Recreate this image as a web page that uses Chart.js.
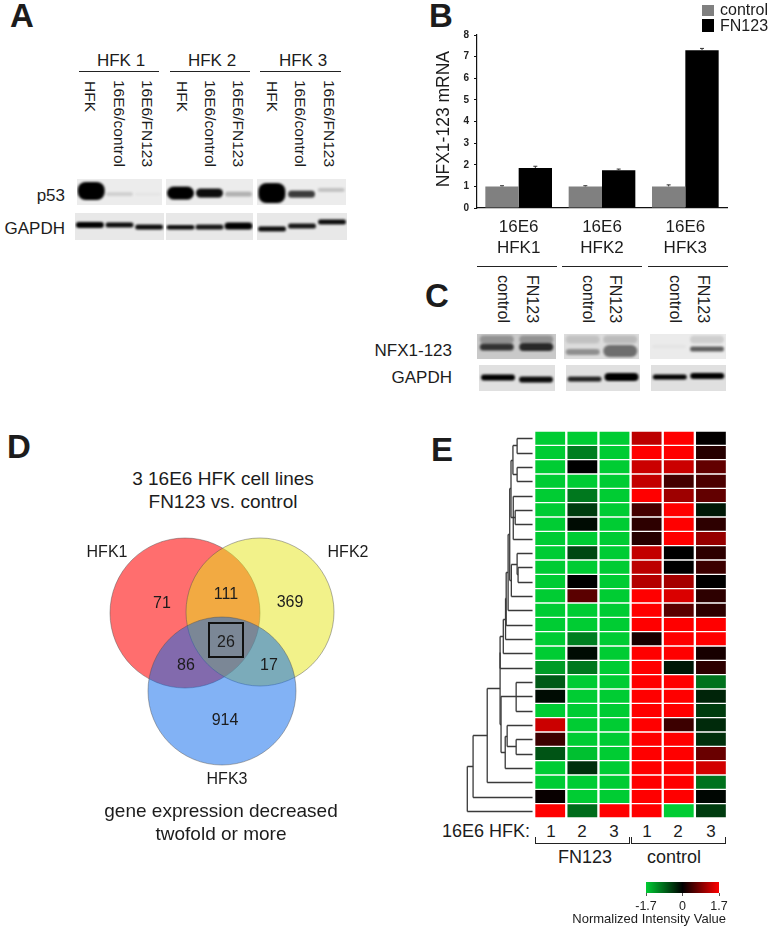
<!DOCTYPE html>
<html lang="en">
  <head>
    <meta charset="UTF-8" />
    <title>NFX1-123 figure</title>
    <script src="https://cdnjs.cloudflare.com/ajax/libs/Chart.js/4.4.1/chart.umd.min.js"></script>
    <style>
      html, body { margin: 0; background: #fff; }
      #page { position: relative; width: 776px; height: 927px; overflow: hidden; font-family: "Liberation Sans", Arial, sans-serif; color: #1c1c1c; }
      #page canvas { position: absolute; }
      .txt { position: absolute; white-space: nowrap; line-height: 1; }
      .rule { position: absolute; background: #222; }
    </style>
  </head>
  <body>
    <div id="page"></div>

    <script>
      // panel B
      const mrnaGroups = [["16E6", "HFK1"], ["16E6", "HFK2"], ["16E6", "HFK3"]];
      const mrnaControl = [1, 1, 1];
      const mrnaFN123 = [1.85, 1.75, 7.3];
      const mrnaControlErr = [0.03, 0.03, 0.07];
      const mrnaFN123Err = [0.08, 0.05, 0.08];

      // panel A blots, one row per HFK line
      const p53Intensity = [[1, 0.12, 0.03], [1, 0.95, 0.25], [1, 0.75, 0.18]];
      const p53Migration = [[0.46, 0.58, 0.58], [0.54, 0.54, 0.58], [0.54, 0.58, 0.42]];
      const p53Thickness = [[18, 4, 3], [13, 9, 5], [20, 7, 4]];
      const gapdhAIntensity = [[1, 0.95, 0.95], [0.95, 0.9, 1], [0.95, 0.9, 0.95]];
      const gapdhAMigration = [[0.44, 0.44, 0.52], [0.52, 0.52, 0.48], [0.59, 0.48, 0.33]];
      const gapdhAThickness = [[6, 5, 5], [4.5, 5, 7], [5, 5, 5]];

      // panel C blots
      const nfxIntensity = [[0.75, 0.8], [0.35, 0.5], [0.03, 0.6]];
      const nfxMigration = [[0.52, 0.52], [0.72, 0.68], [0.5, 0.6]];
      const nfxThickness = [[7, 8], [6, 12], [3, 5]];
      const nfxUpperIntensity = [[0.28, 0.28], [0.12, 0.15], [0, 0.12]];
      const gapdhCIntensity = [[1, 0.95], [0.85, 1], [1, 1]];
      const gapdhCMigration = [[0.48, 0.56], [0.54, 0.46], [0.46, 0.42]];
      const gapdhCThickness = [[6, 6], [5, 8], [5, 6]];

      // panel D circles in figure units
      const vennNames = ["HFK1", "HFK2", "HFK3"];
      const vennX = [85, 160, 122];
      const vennY = [162, 163, 84];
      const vennR = [75, 74, 74];

      // panel E
      const heatRows = ["1","2","3","4","5","6","7","8","9","10","11","12","13","14","15","16","17","18","19","20","21","22","23","24","25","26","27"];
      const heatFN1 = [-1.7,-1.7,-1.7,-1.7,-1.7,-1.7,-1.7,-1.7,-1.7,-1.7,-1.7,-1.7,-1.7,-1.7,-1.7,-1.7,-1.3,-0.75,-0.1,-1.7,1.35,0.4,-0.7,-1.7,-1.7,0.05,1.7];
      const heatFN2 = [-1.7,-1.05,0,-1.7,-1,-0.5,-0.1,-1.7,-0.6,-1.7,0,0.6,-1.7,-1.7,-1.05,-0.1,-1,-1.7,-1.7,-1.7,-1.7,-1.7,-1.6,-0.4,-1.7,-1.7,-0.9];
      const heatFN3 = [-1.7,-1.7,-1.7,-1.7,-1.7,-1.7,-1.7,-1.7,-1.7,-1.7,-1.7,-1.7,-1.7,-1.7,-1.7,-1.7,-1.7,-1.7,-1.7,-1.7,-1.7,-1.7,-1.7,-1.7,-1.7,-1.7,1.7];
      const heatCtl1 = [1.25,1.7,1.35,1.3,1.7,0.45,0.3,0.25,1.3,1.25,1.2,1.7,1.7,1.7,0.15,1.7,1.7,1.7,1.7,1.7,1.7,1.7,1.7,1.7,1.7,1.7,1.7];
      const heatCtl2 = [1.7,1.7,1.35,0.45,1.05,1.7,1.7,1.7,0,0,1.1,1.45,0.6,1.7,1.7,1.7,-0.2,1.7,1.7,1.7,0.4,1.7,1.7,1.7,1.7,1.7,-1.7];
      const heatCtl3 = [0.02,0.25,0.65,0.5,0.65,-0.2,0.3,1,0.3,0.4,0,0.3,0.3,1.7,1.7,0.15,0.3,-0.95,-0.3,-0.5,-0.35,-0.4,0.7,1.4,-0.95,-0.05,-0.5];
      const scaleRange = [-1.7, 1.7];
      const scaleTicks = [-1.7, 0, 1.7];

      // dendrogram: positive = row number, negative = earlier merge number
      const mergeKids = [[1,2],[3,4],[-1,-2],[6,7],[5,-4,8],[-3,-5],[10,11],[9,-7],[-8,12],[-6,-9],[-10,13],[-11,14],[-12,15],[-13,16],[-14,17],[18,19,20],[22,23],[21,-17],[-18,24],[-16,-19],[-15,-20],[-21,25],[-22,26],[-23,27]];
      const mergeDist = [0.53,0.53,0.66,0.59,0.65,0.72,0.5,0.53,0.71,0.76,0.81,0.87,0.89,0.96,1.06,0.56,0.56,0.84,0.9,1.03,1.06,1.46,1.9,2.08];

      const page = document.getElementById("page");
      const FONT = '"Liberation Sans", Arial, sans-serif';
      Chart.defaults.font.family = FONT;
      Chart.defaults.animation = false;
      Chart.defaults.responsive = false;
      Chart.defaults.plugins.legend.display = false;
      Chart.defaults.plugins.tooltip.enabled = false;

      function addCanvas(left, top, width, height, bg) {
        const c = document.createElement("canvas");
        c.width = width;
        c.height = height;
        c.style.left = left + "px";
        c.style.top = top + "px";
        if (bg) c.style.background = bg;
        page.appendChild(c);
        return c;
      }

      // centred on x,y unless align says otherwise
      function label(text, x, y, size, align, weight) {
        const d = document.createElement("div");
        d.className = "txt";
        d.textContent = text;
        d.style.fontSize = size + "px";
        d.style.top = y - size / 2 + "px";
        if (weight) d.style.fontWeight = weight;
        if (align === "right") {
          d.style.right = 776 - x + "px";
        } else {
          d.style.left = x + "px";
          if (align !== "left") d.style.transform = "translateX(-50%)";
        }
        page.appendChild(d);
      }

      function downLabel(text, x, top, size) {
        const d = document.createElement("div");
        d.className = "txt";
        d.textContent = text;
        d.style.writingMode = "vertical-rl";
        d.style.fontSize = size + "px";
        d.style.left = x - size / 2 + "px";
        d.style.top = top + "px";
        page.appendChild(d);
      }

      function rule(x1, y1, x2, y2) {
        const d = document.createElement("div");
        d.className = "rule";
        d.style.left = x1 + "px";
        d.style.top = y1 + "px";
        d.style.width = Math.max(x2 - x1, 1) + "px";
        d.style.height = Math.max(y2 - y1, 1) + "px";
        page.appendChild(d);
      }

      // soft dark smear used as point image for a blot band
      function bandImage(w, h, alpha) {
        const c = document.createElement("canvas");
        c.width = w + 10;
        c.height = h + 10;
        const g = c.getContext("2d");
        g.filter = "blur(1.2px)";
        g.fillStyle = "rgba(0,0,0," + alpha + ")";
        g.beginPath();
        g.roundRect(5, 5, w, h, Math.min(h / 2, 8));
        g.fill();
        return c;
      }

      function blot(left, top, width, height, bg, bandW, intensity, migration, thickness, upper) {
        const c = addCanvas(left, top, width, height, bg);
        const lanes = intensity.map((v, i) => ({ x: i + 1, y: migration[i] }));
        const datasets = [
          {
            data: lanes,
            pointStyle: intensity.map((v, i) => bandImage(bandW, thickness[i], v)),
          },
        ];
        if (upper) {
          datasets.push({
            data: intensity.map((v, i) => ({ x: i + 1, y: 0.22 })),
            pointStyle: upper.map((v) => bandImage(bandW, 8, v)),
          });
        }
        new Chart(c, {
          type: "scatter",
          data: { datasets },
          options: {
            layout: { autoPadding: false },
            scales: {
              x: { type: "linear", display: false, min: 0.5, max: intensity.length + 0.5 },
              y: { type: "linear", display: false, min: 0, max: 1, reverse: true },
            },
          },
        });
      }

      // ---- panel letters
      label("A", 10, 15, 33, "left", "bold");
      label("B", 429, 15, 33, "left", "bold");
      label("C", 425, 295, 33, "left", "bold");
      label("D", 7, 446, 33, "left", "bold");
      label("E", 431, 449, 33, "left", "bold");

      // ---- panel A
      [["HFK 1", 121, 79, 159], ["HFK 2", 212, 170, 250], ["HFK 3", 303, 260, 341]].forEach((h) => {
        label(h[0], h[1], 60, 17);
        rule(h[2], 71, h[3], 72);
      });
      [90, 182, 272].forEach((x) => downLabel("HFK", x, 81, 15.5));
      [119, 210, 300].forEach((x) => downLabel("16E6/control", x, 80, 15.5));
      [147, 238, 329].forEach((x) => downLabel("16E6/FN123", x, 80, 15.5));
      label("p53", 65, 195, 17, "right");
      label("GAPDH", 65, 228, 17, "right");

      const p53Strips = [[77, 85], [166, 87], [257, 89]];
      p53Strips.forEach((s, i) => blot(s[0], 179, s[1], 26, "#ececec", 27, p53Intensity[i], p53Migration[i], p53Thickness[i]));
      const gapdhAStrips = [[75, 89], [166, 87], [257, 90]];
      gapdhAStrips.forEach((s, i) => blot(s[0], 213, s[1], 27, "#e8e8e8", 28, gapdhAIntensity[i], gapdhAMigration[i], gapdhAThickness[i]));

      // ---- panel B
      const errorBars = {
        id: "errorBars",
        afterDatasetsDraw(chart) {
          const g = chart.ctx;
          const y = chart.scales.y;
          const errs = [mrnaControlErr, mrnaFN123Err];
          g.save();
          g.lineWidth = 1;
          g.strokeStyle = "#333";
          errs.forEach((err, ds) => {
            chart.getDatasetMeta(ds).data.forEach((bar, i) => {
              const v = chart.data.datasets[ds].data[i];
              const top = y.getPixelForValue(v + err[i]);
              g.beginPath();
              g.moveTo(bar.x, bar.y);
              g.lineTo(bar.x, top);
              g.moveTo(bar.x - 2, top);
              g.lineTo(bar.x + 2, top);
              g.stroke();
            });
          });
          g.restore();
        },
      };
      new Chart(addCanvas(430, 0, 310, 262), {
        type: "bar",
        data: {
          labels: mrnaGroups,
          datasets: [
            { label: "control", data: mrnaControl, backgroundColor: "#808080" },
            { label: "FN123", data: mrnaFN123, backgroundColor: "#000" },
          ],
        },
        options: {
          layout: { autoPadding: false, padding: { top: 35, right: 13, left: 0, bottom: 0 } },
          datasets: { bar: { categoryPercentage: 0.8, barPercentage: 1 } },
          scales: {
            x: {
              afterFit: (s) => { s.height = 54; },
              grid: { display: false, drawTicks: false },
              border: { color: "#111", width: 1.2 },
              ticks: { color: "#1c1c1c", font: { size: 17, lineHeight: 1.23 }, padding: 9, maxRotation: 0 },
            },
            y: {
              min: 0,
              max: 8,
              afterFit: (s) => { s.width = 47; },
              grid: { drawOnChartArea: false, tickLength: 3, color: "#111" },
              border: { color: "#111", width: 1.2 },
              ticks: { stepSize: 1, color: "#222", font: { size: 10, weight: "bold" }, padding: 5 },
              title: { display: true, text: " NFX1-123 mRNA", color: "#1c1c1c", font: { size: 17.5 }, padding: { top: 4, bottom: 0 } },
            },
          },
        },
        plugins: [errorBars],
      });
      rule(702, 5, 714, 16);
      page.lastChild.style.background = "#808080";
      rule(702, 19, 714, 32);
      page.lastChild.style.background = "#000";
      label("control", 720, 10, 16, "left");
      label("FN123", 720, 26, 16, "left");
      [[477, 557], [562, 642], [648, 728]].forEach((r) => rule(r[0], 266, r[1], 267));

      // ---- panel C
      [[503, 532], [588, 615], [675, 703]].forEach((p) => {
        downLabel("control", p[0], 275, 16);
        downLabel("FN123", p[1], 275, 16);
      });
      label("NFX1-123", 452, 350, 17, "right");
      label("GAPDH", 452, 377, 17, "right");
      const nfxStrips = [[477, 79, "#c9c9c9"], [564, 75, "#dcdcdc"], [650, 76, "#ebebeb"]];
      nfxStrips.forEach((s, i) => blot(s[0], 334, s[1], 25, s[2], 34, nfxIntensity[i], nfxMigration[i], nfxThickness[i], nfxUpperIntensity[i]));
      const gapdhCStrips = [[479, 76], [566, 74], [651, 75]];
      gapdhCStrips.forEach((s, i) => blot(s[0], 365, s[1], 26, "#e0e0e0", 34, gapdhCIntensity[i], gapdhCMigration[i], gapdhCThickness[i]));

      // ---- panel D
      const vennFill = ["rgba(255,0,0,0.57)", "rgba(229,229,21,0.5)", "rgba(5,101,235,0.5)"];
      new Chart(addCanvas(100, 530, 250, 245), {
        type: "bubble",
        data: {
          datasets: vennNames.map((n, i) => ({
            label: n,
            data: [{ x: vennX[i], y: vennY[i], r: vennR[i] }],
            backgroundColor: vennFill[i],
            borderColor: "rgba(80,80,80,0.45)",
            borderWidth: 1,
            clip: false,
            order: 2 - i, // lower order paints last, blue has to end up on top
          })),
        },
        options: {
          layout: { autoPadding: false },
          scales: {
            x: { type: "linear", display: false, min: 0, max: 250 },
            y: { type: "linear", display: false, min: 0, max: 245 },
          },
        },
      });
      label("3 16E6 HFK cell lines", 223, 478, 19);
      label("FN123 vs. control", 223, 501, 19);
      label("HFK1", 107, 552, 16);
      label("HFK2", 348, 552, 16);
      label("HFK3", 227, 779, 16);
      [["71", 162, 603], ["111", 226, 594], ["369", 290, 602], ["26", 226, 642], ["86", 186, 665], ["17", 269, 665], ["914", 225, 720]].forEach((n) => label(n[0], n[1], n[2], 16));
      const box = document.createElement("div");
      box.style.cssText = "position:absolute;left:208px;top:622px;width:32px;height:32px;border:2px solid #111";
      page.appendChild(box);
      label("gene expression decreased", 221, 810, 19);
      label("twofold or more", 221, 833, 19);

      // ---- panel E
      function intensityColor(v) {
        const t = Math.min(Math.abs(v) / 1.7, 1);
        if (v < 0) return "rgb(0," + Math.round(204 * t) + "," + Math.round(51 * t) + ")";
        return "rgb(" + Math.round(255 * t) + ",0,0)";
      }

      const dendrogram = {
        id: "dendrogram",
        afterDatasetsDraw(chart) {
          const g = chart.ctx;
          const xs = chart.scales.x;
          const ys = chart.scales.y;
          const nodes = [];
          const place = (kid) => (kid > 0 ? { row: kid - 1, dist: 0.05 } : nodes[-kid - 1]);
          g.save();
          g.strokeStyle = "#3a3a3a";
          g.lineWidth = 1.3;
          mergeKids.forEach((kids, i) => {
            const parts = kids.map(place);
            const px = xs.getPixelForValue(-mergeDist[i]);
            const rows = parts.map((p) => p.row);
            g.beginPath();
            parts.forEach((p) => {
              const py = Math.round(ys.getPixelForValue(p.row)) + 0.5;
              g.moveTo(xs.getPixelForValue(-p.dist), py);
              g.lineTo(px, py);
            });
            g.moveTo(px, Math.round(ys.getPixelForValue(Math.min(...rows))) + 0.5);
            g.lineTo(px, Math.round(ys.getPixelForValue(Math.max(...rows))) + 0.5);
            g.stroke();
            nodes.push({ row: (Math.min(...rows) + Math.max(...rows)) / 2, dist: mergeDist[i] });
          });
          g.restore();
        },
      };

      const heatColumns = [heatFN1, heatFN2, heatFN3, heatCtl1, heatCtl2, heatCtl3];
      new Chart(addCanvas(459, 431, 268, 387), {
        type: "bar",
        data: {
          labels: heatRows,
          datasets: heatColumns.map((col) => ({
            data: col.map(() => 1),
            backgroundColor: col.map(intensityColor),
            borderColor: "#fff",
            borderWidth: { top: 1, bottom: 1, left: 1.5, right: 1.5 },
            borderSkipped: false,
          })),
        },
        options: {
          indexAxis: "y",
          layout: { autoPadding: false },
          datasets: { bar: { categoryPercentage: 1, barPercentage: 1 } },
          scales: {
            x: { type: "linear", display: false, stacked: true, min: -2.338, max: 6 },
            y: { display: false, stacked: true },
          },
        },
        plugins: [dendrogram],
      });

      label("16E6 HFK:", 530, 831, 18, "right");
      [["1", 551], ["2", 582], ["3", 614], ["1", 647], ["2", 678], ["3", 711]].forEach((n) => label(n[0], n[1], 831, 17));
      rule(535, 843, 629, 844);
      rule(631, 843, 725, 844);
      [535, 629, 631, 725].forEach((x) => rule(x, 837, x + 1, 844));
      label("FN123", 585, 857, 18);
      label("control", 674, 857, 18);

      new Chart(addCanvas(620, 875, 120, 38), {
        type: "bar",
        data: {
          labels: ["Normalized Intensity Value"],
          datasets: [
            {
              data: [scaleRange],
              backgroundColor(ctx) {
                const area = ctx.chart.chartArea;
                if (!area) return "#000";
                const grad = ctx.chart.ctx.createLinearGradient(area.left, 0, area.right, 0);
                grad.addColorStop(0, intensityColor(scaleRange[0]));
                grad.addColorStop(0.5, "#000");
                grad.addColorStop(1, intensityColor(scaleRange[1]));
                return grad;
              },
            },
          ],
        },
        options: {
          indexAxis: "y",
          layout: { autoPadding: false, padding: { left: 26, right: 21, top: 7, bottom: 0 } },
          datasets: { bar: { categoryPercentage: 1, barPercentage: 1 } },
          scales: {
            x: {
              type: "linear",
              min: scaleRange[0],
              max: scaleRange[1],
              afterFit: (s) => { s.height = 20; },
              afterBuildTicks: (s) => { s.ticks = scaleTicks.map((v) => ({ value: v })); },
              grid: { drawOnChartArea: false, tickLength: 3, color: "#555" },
              border: { display: false },
              ticks: { autoSkip: false, maxRotation: 0, color: "#222", font: { size: 12.5 }, padding: 3, callback: (v) => String(v) },
            },
            y: { display: false },
          },
        },
      });
      label("Normalized Intensity Value", 726, 918, 13, "right");

      const strip = document.createElement("div");
      strip.style.cssText = "position:absolute;left:0;top:920px;width:776px;height:7px;background:#fdf5ef;z-index:-1";
      page.appendChild(strip);
    </script>
  </body>
</html>
